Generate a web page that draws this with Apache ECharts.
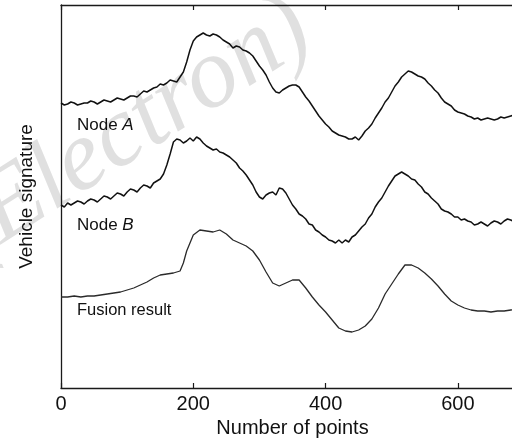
<!DOCTYPE html>
<html>
<head>
<meta charset="utf-8">
<script src="https://cdn.jsdelivr.net/npm/echarts@6/dist/echarts.min.js"></script>
<style>html,body{margin:0;padding:0;background:#fff}#c{width:512px;height:443px}</style>
</head>
<body>
<div id="c"></div>
<script>
// x positions (number of points)
const xA = [0,5,10,15,20,25,30,35,40,45,50,55,60,65,70,75,80,85,90,95,100,105,110,115,120,125,130,135,140,145,150,155,160,165,170,175,180,185,190,195,200,205,210,215,220,225,230,235,240,245,250,255,260,265,270,275,280,285,290,295,300,305,310,315,320,325,330,335,340,345,350,355,360,365,370,375,380,385,390,395,400,405,410,415,420,425,430,435,440,445,450,455,460,465,470,475,480,485,490,495,500,505,510,515,520,525,530,535,540,545,550,555,560,565,570,575,580,585,590,595,600,605,610,615,620,625,630,635,640,645,650,655,660,665,670,675,680,685];
const nodeA = [285,283,284,286,285,283,284,285,285,287,286,284,286,288,287,286,288,290,289,288,290,292,292,291,294,297,296,298,300,301,304,303,305,308,307,306,311,316,326,338,347,351,353,355,353,352,354,353,351,348,346,344,340,342,341,338,337,335,332,327,322,318,313,306,300,296,295,298,300,302,303,303,301,296,291,287,282,277,272,268,264,261,257,255,253,252,251,249,249,251,248,252,257,260,264,270,275,280,286,290,296,302,306,311,314,317,316,314,312,311,309,305,302,298,295,290,286,284,282,278,276,275,274,272,271,269,270,268,269,270,269,268,269,271,270,271,272,273];
const nodeB = [183,181,185,183,185,187,186,184,187,189,188,186,189,192,191,189,192,195,194,192,196,199,198,196,200,203,202,200,205,207,209,214,223,234,246,249,248,245,247,250,247,251,249,245,242,240,238,239,236,235,233,231,228,225,220,217,213,208,203,196,191,189,193,195,196,193,200,199,195,189,183,179,174,172,169,164,163,158,156,153,151,148,147,145,148,145,148,146,151,153,157,161,164,170,174,181,186,190,196,202,207,212,214,216,214,212,209,208,204,201,196,194,190,187,184,179,177,176,174,171,171,168,169,167,166,163,164,166,164,162,165,167,166,164,167,169,168,166];
const xF = [0,10,20,30,40,50,60,70,80,90,100,110,120,130,140,150,160,170,180,185,190,200,210,220,230,240,250,260,270,280,290,300,310,320,330,340,350,360,370,380,390,400,410,420,430,440,450,460,470,480,490,500,510,520,530,540,550,560,570,580,590,600,610,620,630,640,650,660,670,680,690];
const fusion = [91,91,92,91,92,92,93,94,95,96,98,100,103,106,110,113,114,115,117,125,137,153,158,157,156,158,154,148,145,142,137,128,116,105,102,105,108,108,100,91,83,76,68,60,57,56,58,62,69,80,94,104,114,123,123,120,115,109,102,94,87,83,80,78,77,77,76,77,77,78,79];
const xTickValues = [0, 200, 400, 600];
const seriesLabels = ['Node ', 'A', 'Node ', 'B', 'Fusion result'];

const pairs = (xs, ys) => xs.map((x, i) => [x, ys[i]]);
const chart = echarts.init(document.getElementById('c'), null, {renderer: 'canvas'});
const font = '"Liberation Sans", Arial, Helvetica, sans-serif';
const axisLine = {show: true, lineStyle: {color: '#1a1a1a', width: 1.3}};
const ang = 32.5 * Math.PI / 180;
chart.setOption({
  animation: false,
  backgroundColor: '#fff',
  grid: {left: 61, width: 463, top: 5, bottom: 55, containLabel: false, outerBoundsMode: 'none'},
  xAxis: [{
    type: 'value', position: 'bottom', min: 0, max: 700, interval: 200,
    axisLine: axisLine,
    axisTick: {show: true, inside: true, length: 5, lineStyle: {color: '#1a1a1a', width: 1.2},
      customValues: xTickValues},
    axisLabel: {show: true, margin: 6, fontSize: 20, color: '#111', fontFamily: font,
      customValues: xTickValues},
    splitLine: {show: false},
    name: 'Number of points', nameLocation: 'middle', nameGap: 30,
    nameTextStyle: {fontSize: 20, color: '#111', fontFamily: font}
  }, {
    type: 'value', position: 'top', min: 0, max: 700, interval: 200,
    axisLine: axisLine,
    axisTick: {show: true, inside: true, length: 5, lineStyle: {color: '#1a1a1a', width: 1.2},
      customValues: xTickValues},
    axisLabel: {show: false},
    splitLine: {show: false}
  }],
  yAxis: [{
    type: 'value', min: 0, max: 383,
    axisLine: axisLine,
    axisTick: {show: false}, axisLabel: {show: false}, splitLine: {show: false},
    name: 'Vehicle signature', nameLocation: 'middle', nameGap: 25,
    nameTextStyle: {fontSize: 19, color: '#111', fontFamily: font}
  }],
  graphic: [
    {type: 'text', x: -14, y: 282, rotation: ang, z: 0, silent: true,
      style: {text: '(Electron)', fill: '#e0e0e0', font: 'italic 100px "Liberation Serif", "Times New Roman", serif', verticalAlign: 'bottom'}},
    {type: 'text', x: 77, y: 125, z: 100,
      style: {text: '{n|' + seriesLabels[0] + '}{i|' + seriesLabels[1] + '}', verticalAlign: 'middle',
        rich: {n: {fontSize: 17, fontFamily: font, fill: '#111'}, i: {fontSize: 17, fontFamily: font, fontStyle: 'italic', fill: '#111'}}}},
    {type: 'text', x: 77, y: 225, z: 100,
      style: {text: '{n|' + seriesLabels[2] + '}{i|' + seriesLabels[3] + '}', verticalAlign: 'middle',
        rich: {n: {fontSize: 17, fontFamily: font, fill: '#111'}, i: {fontSize: 17, fontFamily: font, fontStyle: 'italic', fill: '#111'}}}},
    {type: 'text', x: 77, y: 310, z: 100,
      style: {text: seriesLabels[4], verticalAlign: 'middle', font: '16.5px ' + font, fill: '#111'}}
  ],
  series: [
    {name: 'Node A', type: 'line', data: pairs(xA, nodeA), showSymbol: false, z: 5,
      lineStyle: {color: '#111', width: 1.5}},
    {name: 'Node B', type: 'line', data: pairs(xA, nodeB), showSymbol: false, z: 5,
      lineStyle: {color: '#111', width: 1.5}},
    {name: 'Fusion result', type: 'line', data: pairs(xF, fusion), showSymbol: false, z: 5,
      lineStyle: {color: '#2a2a2a', width: 1.3}}
  ]
});
</script>
</body>
</html>
